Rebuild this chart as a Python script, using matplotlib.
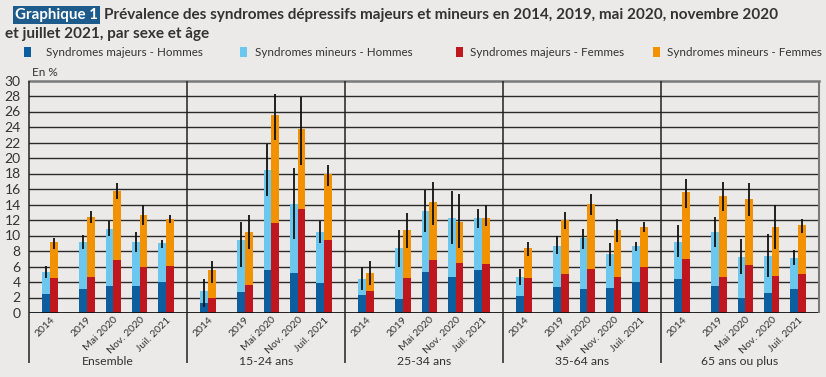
import matplotlib
matplotlib.use("Agg")
import matplotlib.pyplot as plt
from matplotlib.patches import Rectangle
import numpy as np

groups = ["Ensemble", "15-24 ans", "25-34 ans", "35-64 ans", "65 ans ou plus"]
periods = ["2014", "2019", "Mai 2020", "Nov. 2020", "Juil. 2021"]

# values in %, order: group by group, period by period
majeurs_h = [2.5, 3.1, 3.5, 3.5, 4.0,
             1.3, 2.7, 5.6, 5.1, 3.9,
             2.3, 1.8, 5.3, 4.6, 5.6,
             2.2, 3.4, 3.1, 3.2, 4.0,
             4.4, 3.5, 1.9, 2.6, 3.1]
mineurs_h = [2.8, 6.0, 7.4, 5.6, 5.0,
             1.5, 6.7, 12.9, 9.0, 6.5,
             2.1, 6.6, 7.9, 7.7, 6.6,
             2.5, 5.3, 6.6, 4.4, 4.6,
             4.8, 6.9, 5.3, 4.8, 4.0]
majeurs_f = [4.5, 4.7, 6.8, 6.0, 6.1,
             2.0, 3.6, 11.6, 13.4, 9.4,
             2.8, 4.5, 6.8, 6.5, 6.3,
             4.5, 5.0, 5.7, 4.7, 5.9,
             7.0, 4.6, 6.2, 4.8, 5.0]
mineurs_f = [4.6, 7.7, 9.0, 6.7, 6.0,
             3.6, 6.9, 14.0, 10.4, 8.5,
             2.3, 6.2, 7.5, 5.3, 6.0,
             3.9, 7.0, 8.4, 6.0, 5.2,
             8.6, 10.5, 8.5, 6.3, 6.3]
# confidence intervals (low, high) of the total
ic_low_h = [4.5, 8.3, 9.9, 7.9, 8.4,
            0.8, 6.0, 15.1, 9.5, 9.0,
            3.0, 6.0, 10.4, 8.9, 11.0,
            3.6, 7.6, 8.3, 6.1, 8.0,
            7.2, 8.5, 5.0, 4.7, 6.2]
ic_high_h = [6.1, 10.1, 11.9, 10.4, 9.4,
             4.4, 11.7, 21.8, 18.7, 11.9,
             6.0, 10.7, 15.9, 15.7, 13.4,
             5.7, 9.9, 10.9, 9.0, 9.1,
             11.3, 12.4, 9.5, 10.2, 8.1]
ic_low_f = [8.3, 11.6, 14.7, 11.4, 11.6,
            3.9, 8.2, 22.3, 19.1, 16.4,
            3.6, 8.4, 11.4, 8.4, 11.2,
            7.3, 10.8, 12.7, 9.2, 10.4,
            13.5, 13.2, 12.5, 8.3, 10.3]
ic_high_f = [9.7, 13.2, 16.8, 13.9, 12.6,
             6.7, 12.6, 28.3, 27.9, 19.1,
             6.7, 12.9, 16.9, 15.4, 13.9,
             9.2, 13.0, 15.3, 12.1, 11.7,
             17.3, 16.9, 16.8, 13.9, 12.1]

series_labels = ["Syndromes majeurs - Hommes", "Syndromes mineurs - Hommes",
                 "Syndromes majeurs - Femmes", "Syndromes mineurs - Femmes"]
colors = ["#0c5e9e", "#6cc7ee", "#c0161d", "#f39200"]

BG = "#ebeae8"
TXT = "#333333"
plt.rcParams["font.family"] = ["Lato", "DejaVu Sans"]

W, H = 826, 377
fig = plt.figure(figsize=(W / 100, H / 100), dpi=100, facecolor=BG)
renderer = fig.canvas.get_renderer()


def fit(t, target_px):
    w = t.get_window_extent(renderer=renderer).width
    if w > 0:
        t.set_fontsize(t.get_fontsize() * target_px / w)
    return t


ax_l, ax_r, ax_b, ax_t = 29, 819, 313, 80.5
ax = fig.add_axes([ax_l / W, 1 - ax_b / H, (ax_r - ax_l) / W, (ax_b - ax_t) / H])
ax.set_facecolor(BG)

gw = 6.0
offsets = [0.8, 2.2, 3.2, 4.2, 5.2]
bw = 0.29
centers = np.array([g * gw + o for g in range(len(groups)) for o in offsets])
xh = centers - bw / 2
xf = centers + bw / 2

mh = np.array(majeurs_h); nh = np.array(mineurs_h)
mf = np.array(majeurs_f); nf = np.array(mineurs_f)

ax.bar(xh, mh, bw, color=colors[0], zorder=3, linewidth=0)
ax.bar(xh, nh, bw, bottom=mh, color=colors[1], zorder=3, linewidth=0)
ax.bar(xf, mf, bw, color=colors[2], zorder=3, linewidth=0)
ax.bar(xf, nf, bw, bottom=mf, color=colors[3], zorder=3, linewidth=0)

ax.vlines(xh, ic_low_h, ic_high_h, color="#111111", lw=1.3, zorder=4)
ax.vlines(xf, ic_low_f, ic_high_f, color="#111111", lw=1.3, zorder=4)

ax.set_xlim(0, gw * len(groups))
ax.set_ylim(0, 30)
yt = list(range(0, 31, 2))
ax.set_yticks(yt)
ax.set_yticklabels([str(v) for v in yt], fontsize=10, color=TXT)
ax.tick_params(axis="y", length=0, pad=6)
for v in yt[1:-1]:
    ax.axhline(v, color="#2b2b2b", lw=1.0, zorder=1)

ax.set_xticks(centers + 0.12)
ax.set_xticklabels(periods * len(groups), fontsize=7.5, color=TXT,
                   rotation=45, ha="right", va="center", rotation_mode="anchor")
ax.tick_params(axis="x", length=0, pad=4)

for s in ["left", "right", "top", "bottom"]:
    ax.spines[s].set_visible(False)
ax.axhline(0, color="#111111", lw=1.3, zorder=5)
ax.axhline(30, color="#7a7a7a", lw=1.8, zorder=5, clip_on=False)
ax.vlines([gw * len(groups)], 0, 30, color="#7a7a7a", lw=1.5, zorder=5, clip_on=False)
seps = [g * gw for g in range(len(groups))]
ax.vlines(seps, -6.5, 30, color="#222222", lw=1.1, zorder=5, clip_on=False)

for g, name in enumerate(groups):
    t = ax.text(g * gw + gw / 2, -6.2, name, ha="center", va="center",
                fontsize=10, color=TXT)
    if g == 0:
        fit(t, 52)
        gfs = t.get_fontsize()
    else:
        t.set_fontsize(gfs)

ax.text(0.12, 31.0, "En %", fontsize=8.5, color=TXT, va="center", ha="left")

# title
tb = fig.text(15 / W, 1 - 15 / H, "Graphique 1", fontsize=11, weight="bold", color="white",
              va="center", ha="left",
              bbox=dict(boxstyle="square,pad=0.15", fc="#1d5b8c", ec="none"))
fit(tb, 83)
t1 = fig.text(104 / W, 1 - 15 / H,
              "Prévalence des syndromes dépressifs majeurs et mineurs en 2014, 2019, mai 2020, novembre 2020",
              fontsize=11, weight="bold", color=TXT, va="center", ha="left")
fit(t1, 673)
t2 = fig.text(5 / W, 1 - 34 / H, "et juillet 2021, par sexe et âge",
              fontsize=t1.get_fontsize(), weight="bold", color=TXT, va="center", ha="left")

# legend
leg_sq_x = [24, 240, 456, 653]
leg_tx_x = [46, 255, 470, 667]
ly = 52
lfs = None
for i in range(4):
    fig.add_artist(Rectangle((leg_sq_x[i] / W, 1 - (ly + 5) / H), 7 / W, 10 / H,
                             transform=fig.transFigure, fc=colors[i], ec="none"))
    t = fig.text(leg_tx_x[i] / W, 1 - ly / H, series_labels[i], fontsize=9, color=TXT,
                 va="center", ha="left")
    if lfs is None:
        fit(t, 157)
        lfs = t.get_fontsize()
    else:
        t.set_fontsize(lfs)

fig.savefig("out.png", dpi=100, facecolor=BG)
